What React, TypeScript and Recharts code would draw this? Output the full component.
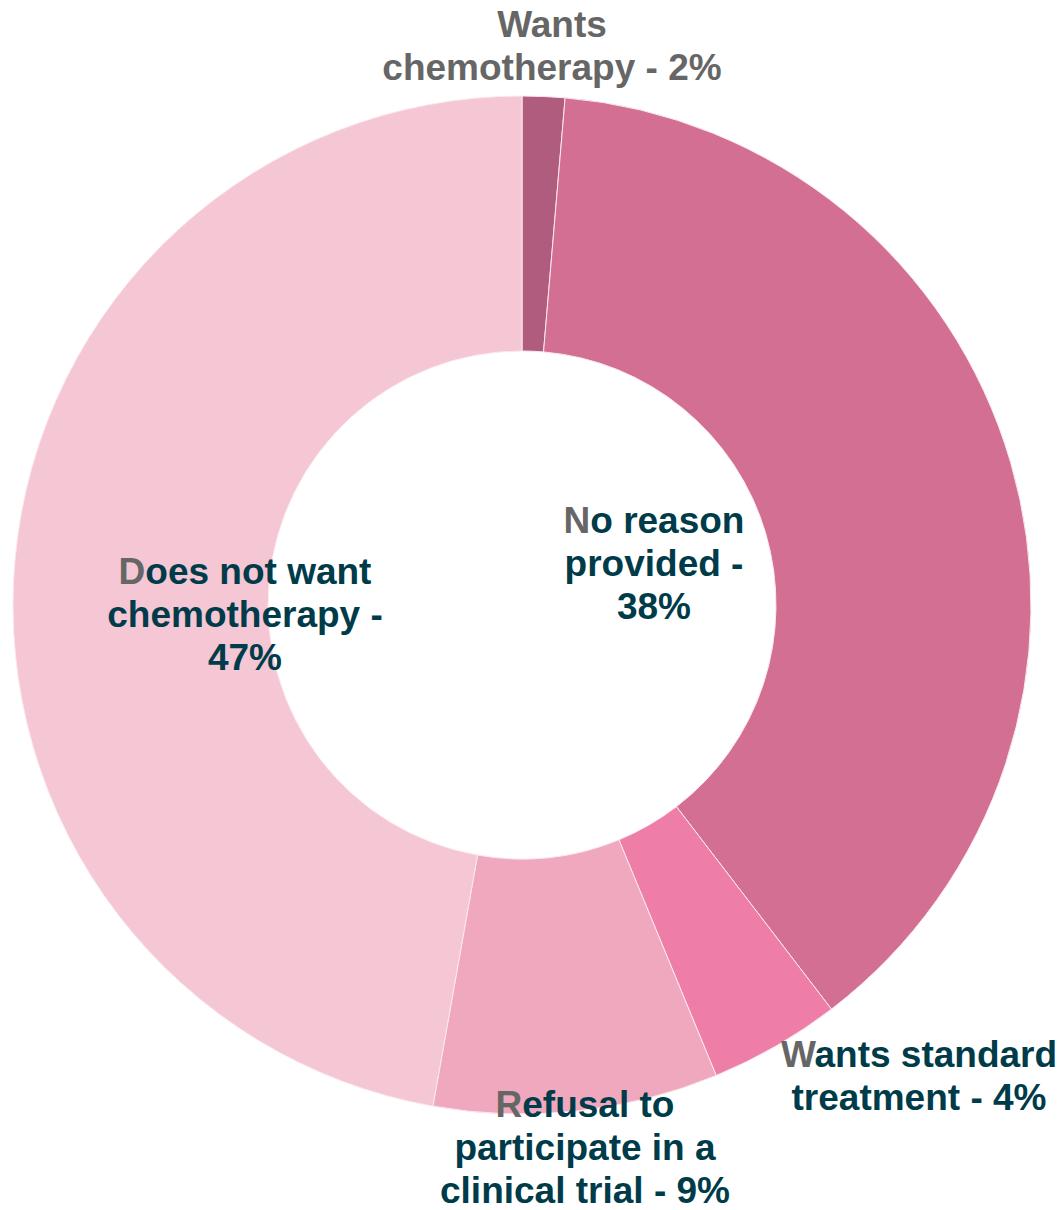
import React from "react";
import { PieChart, Pie, Cell } from "recharts";

const categories = [
  "Wants chemotherapy",
  "No reason provided",
  "Wants standard treatment",
  "Refusal to participate in a clinical trial",
  "Does not want chemotherapy",
];
const shares = [1.35, 38.25, 4.17, 9.03, 47.2];
const labelLines = [
  ["Wants", "chemotherapy - 2%"],
  ["No reason", "provided -", "38%"],
  ["Wants standard", "treatment - 4%"],
  ["Refusal to", "participate in a", "clinical trial - 9%"],
  ["Does not want", "chemotherapy -", "47%"],
];

const colors = ["#B05C7E", "#D36F93", "#EE7EA7", "#F0A8BF", "#F5C6D4"];
// label placement relative to pie centre: [dx, first baseline dy]
const labelPlacement: [number, number][] = [
  [30, -568],
  [132, -72],
  [397, 462],
  [63, 512],
  [-277, -21],
];
const LINE_H = 43;
const DARK = "#003B4A";
const GRAY = "#666666";

const data = categories.map((name, i) => ({ name, value: shares[i] }));

const renderLabel = (props: any) => {
  const { cx, cy, index } = props;
  const lines = labelLines[index];
  const [dx, dy] = labelPlacement[index];
  const x = cx + dx;
  const allGray = index === 0;
  return (
    <text
      key={`lbl-${index}`}
      textAnchor="middle"
      fontFamily="'Liberation Sans', Arial, sans-serif"
      fontWeight="bold"
      fontSize={37}
      fill={allGray ? GRAY : DARK}
    >
      {lines.map((line, li) => (
        <tspan key={li} x={x} y={cy + dy + li * LINE_H}>
          {li === 0 && !allGray ? (
            <>
              <tspan fill={GRAY}>{line.charAt(0)}</tspan>
              {line.slice(1)}
            </>
          ) : (
            line
          )}
        </tspan>
      ))}
    </text>
  );
};

export default function App() {
  return (
    <div style={{ position: "absolute", left: 0, top: 0, background: "#fff" }}>
      <PieChart width={1059} height={1210} margin={{ top: 0, right: 0, bottom: 0, left: 0 }}>
        <Pie
          data={data}
          dataKey="value"
          nameKey="name"
          cx={522}
          cy={605}
          innerRadius={254}
          outerRadius={509}
          startAngle={90}
          endAngle={-270}
          stroke="#fbe9ee"
          strokeWidth={1}
          label={renderLabel}
          labelLine={false}
          isAnimationActive={false}
        >
          {data.map((d, i) => (
            <Cell key={d.name} fill={colors[i]} />
          ))}
        </Pie>
      </PieChart>
    </div>
  );
}
